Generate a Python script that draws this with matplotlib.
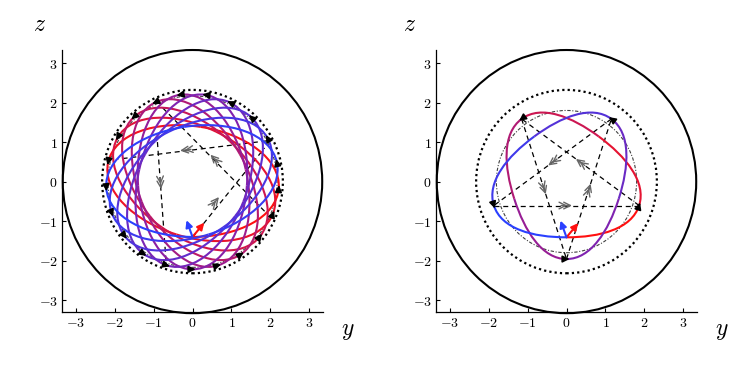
import numpy as np
import matplotlib.pyplot as plt
from matplotlib.path import Path
from matplotlib.patches import Circle, PathPatch
from matplotlib.colors import LinearSegmentedColormap

plt.rcParams['mathtext.fontset'] = 'cm'

# ---- values ----
wall_r = 3.33            # outer solid circle
ring_r = 2.32            # dotted circle
ticks = [-3, -2, -1, 0, 1, 2, 3]

# left panel orbit: 21 turning points, 10 revolutions
left_r_tip = 2.22
left_r_min = 1.40
left_r_dashdot = 2.17
left_n_tips = 21
left_turns = 10
left_start_deg = -90
left_chords = [((0.0, -1.41), (1.85, 0.85)),
               ((1.85, -0.75), (-0.80, 1.90)),
               ((1.90, 1.03), (-1.90, 0.57)),
               ((-0.90, 1.00), (-0.68, -2.00))]
left_chevrons = [(0.59, -0.50), (0.56, 0.58), (-0.18, 0.80), (-0.82, -0.05)]

# right panel orbit: 5 turning points, 2 revolutions (pentagram)
right_r_tip = 1.96
right_r_min = 1.41
right_r_dashdot = 1.80
right_n_tips = 5
right_turns = 2
right_start_deg = -90

# initial arrows at start point: (angle deg, length)
red_arrow = (50, 0.47)
blue_arrow = (110, 0.45)

cmap = LinearSegmentedColormap.from_list('rb', ['#ff1010', '#8a1fa6', '#2a40ff'])


def u(a):
    return np.array([np.cos(a), np.sin(a)])


def orbit_pieces(r_tip, r_min, n_tips, turns, start_deg):
    """Bezier pieces min -> tip -> min for each turning point"""
    step = np.radians(360.0 * turns / n_tips)
    half = step / 2
    kap = 0.5523 * (half / (np.pi / 2))
    pieces, tips = [], []
    for k in range(n_tips):
        m0 = np.radians(start_deg) + k * step
        t = m0 + half
        m1 = m0 + step
        M0, T, M1 = r_min * u(m0), r_tip * u(t), r_min * u(m1)
        pieces.append([M0, M0 + kap * r_tip * u(m0 + np.pi / 2),
                       T - kap * r_min * u(t + np.pi / 2), T])
        pieces.append([T, T + kap * r_min * u(t + np.pi / 2),
                       M1 - kap * r_tip * u(m1 + np.pi / 2), M1])
        tips.append(t)
    return pieces, tips


def chevron(ax, p, d):
    d = np.asarray(d, float)
    d = d / np.linalg.norm(d)
    p = np.asarray(p, float)
    for off in (-0.06, 0.06):
        q = p + off * d
        ax.annotate('', xy=q + 0.08 * d, xytext=q - 0.08 * d,
                    arrowprops=dict(arrowstyle='->', color='0.4', lw=1.0,
                                    mutation_scale=12, shrinkA=0, shrinkB=0),
                    zorder=4)


def setup_axes(ax):
    ax.set_xlim(-3.35, 3.35)
    ax.set_ylim(-3.30, 3.33)
    ax.set_aspect('auto')
    for s in ('top', 'right'):
        ax.spines[s].set_visible(False)
    for s in ('left', 'bottom'):
        ax.spines[s].set_linewidth(0.9)
    ax.set_xticks(ticks)
    ax.set_yticks(ticks)
    ax.set_xticklabels(['$%d$' % t for t in ticks], fontsize=10)
    ax.set_yticklabels(['$%d$' % t for t in ticks], fontsize=10)
    ax.tick_params(direction='in', length=3, width=0.8, pad=3)


def draw_panel(ax, r_tip, r_min, r_dd, n_tips, turns, start_deg):
    setup_axes(ax)
    ax.add_patch(Circle((0, 0), wall_r, fill=False, ec='k', lw=1.5, clip_on=False))
    ax.add_patch(Circle((0, 0), ring_r, fill=False, ec='k', lw=1.6,
                        ls=(0, (1, 1.4))))
    ax.add_patch(Circle((0, 0), r_dd, fill=False, ec='0.25', lw=0.8,
                        ls=(0, (3, 1.5, 1, 1.5))))

    pieces, tips = orbit_pieces(r_tip, r_min, n_tips, turns, start_deg)
    n = len(pieces)
    codes = [Path.MOVETO, Path.CURVE4, Path.CURVE4, Path.CURVE4]
    for i, pc in enumerate(pieces):
        ax.add_patch(PathPatch(Path(pc, codes), fill=False,
                               ec=cmap(i / (n - 1)), lw=1.5, zorder=3))

    for t in tips:
        p = r_tip * u(t)
        d = u(t + np.pi / 2)
        ax.annotate('', xy=p + 0.08 * d, xytext=p - 0.08 * d,
                    arrowprops=dict(arrowstyle='-|>', color='k', lw=1.2,
                                    mutation_scale=10, shrinkA=0, shrinkB=0),
                    zorder=5)

    s = r_min * u(np.radians(start_deg))
    for (ang, ln), col in ((red_arrow, '#ff1010'), (blue_arrow, '#2a40ff')):
        ax.annotate('', xy=s + ln * u(np.radians(ang)), xytext=s,
                    arrowprops=dict(arrowstyle='-|>', color=col, lw=1.5,
                                    mutation_scale=10, shrinkA=0, shrinkB=0),
                    zorder=6)
    return tips


fig = plt.figure(figsize=(7.47, 3.76), dpi=100)
axL = fig.add_axes([62 / 747, 1 - 312 / 376, 261 / 747, 262 / 376])
axR = fig.add_axes([436 / 747, 1 - 312 / 376, 261 / 747, 262 / 376])

draw_panel(axL, left_r_tip, left_r_min, left_r_dashdot, left_n_tips,
           left_turns, left_start_deg)
for (p0, p1), c in zip(left_chords, left_chevrons):
    axL.plot([p0[0], p1[0]], [p0[1], p1[1]], color='k', lw=0.9,
             ls=(0, (4, 3)), zorder=2)
    chevron(axL, c, np.subtract(p1, p0))

tipsR = draw_panel(axR, right_r_tip, right_r_min, right_r_dashdot,
                   right_n_tips, right_turns, right_start_deg)
ptsR = [right_r_tip * u(t) for t in tipsR]
for k in range(len(ptsR)):
    p0, p1 = ptsR[k], ptsR[(k + 1) % len(ptsR)]
    axR.plot([p0[0], p1[0]], [p0[1], p1[1]], color='k', lw=0.9,
             ls=(0, (4, 3)), zorder=2)
    chevron(axR, (p0 + p1) / 2, p1 - p0)

for x0 in (40, 410):
    fig.text(x0 / 747, 1 - 24 / 376, '$z$', fontsize=17, ha='center', va='center')
for x0 in (348, 722):
    fig.text(x0 / 747, 1 - 330 / 376, '$y$', fontsize=17, ha='center', va='center')

fig.savefig('out.png', dpi=100)
